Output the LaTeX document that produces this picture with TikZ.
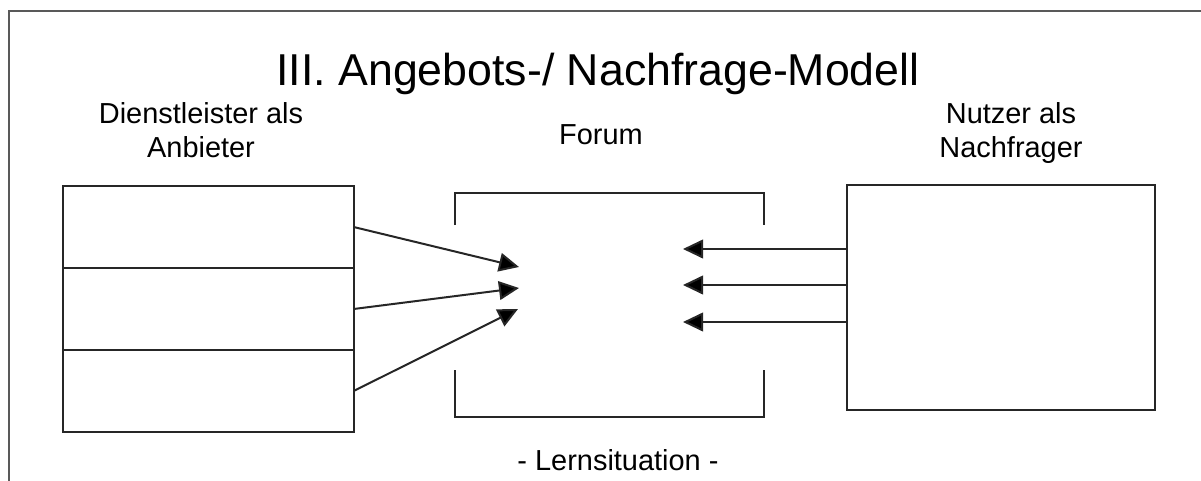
\documentclass[tikz,border=0pt]{standalone}
\usepackage{fontspec}
\setmainfont{Liberation Sans}
\usepackage{xcolor}
\usetikzlibrary{positioning, arrows.meta}
\tikzstyle{lbl} = [align=center, inner sep=0pt, font=\fontsize{21.7}{24.75}\selectfont]
\tikzstyle{ttl} = [inner sep=0pt, font=\fontsize{33.5}{40}\selectfont]
\tikzstyle{abox} = [rectangle, minimum width=218pt, minimum height=61.5pt, inner sep=0pt, outer sep=0pt, draw=black!85, line width=1.6pt]
\tikzstyle{nbox} = [rectangle, minimum width=231pt, minimum height=169pt, inner sep=0pt, outer sep=0pt, draw=black!85, line width=1.6pt]
\tikzstyle{bracket} = [draw=black!85, line width=1.6pt]
\tikzstyle{frame} = [draw=black!65, line width=1.6pt]
\tikzstyle{arrow} = [line width=1.5pt, black!85, -{Triangle[length=15pt, width=14pt, fill=black]}]

\begin{document}
\begin{tikzpicture}[x=0.75pt, y=-0.75pt]
\useasboundingbox (0,0) rectangle (1201,481);
\draw [frame] (9,481) |- (1201,11);

\node (title) [ttl, anchor=base] at (598,86) {III. Angebots-/ Nachfrage-Modell};
\node (anb) [lbl, anchor=base] at (201,157) {Dienstleister als\\Anbieter};
\node (forum) [lbl, anchor=base] at (601,145) {Forum};
\node (nach) [lbl, anchor=base] at (1011,157) {Nutzer als\\Nachfrager};

\node (a1) [abox, anchor=north west] at (63,186) {};
\node (a2) [abox, below=0pt of a1] {};
\node (a3) [abox, below=0pt of a2] {};

\node (n) [nbox, anchor=north west] at (847,185) {};

% forum brackets
\draw [bracket] (455,225) |- (764,193) -- (764,225);
\draw [bracket] (455,370) |- (764,417) -- (764,370);

\node (lern) [lbl, anchor=base] at (618,470) {- Lernsituation -};

\coordinate (t1) at (519,267);
\coordinate (t2) at (519,288);
\coordinate (t3) at (518,309);
\coordinate (s1) at (683,249);
\coordinate (s2) at (683,285);
\coordinate (s3) at (683,322);

\draw [arrow] (a1.east) -- (t1);
\draw [arrow] (a2.east) -- (t2);
\draw [arrow] (a3.east) -- (t3);
\draw [arrow] (n.west |- s1) -- (s1);
\draw [arrow] (n.west |- s2) -- (s2);
\draw [arrow] (n.west |- s3) -- (s3);

\end{tikzpicture}
\end{document}
